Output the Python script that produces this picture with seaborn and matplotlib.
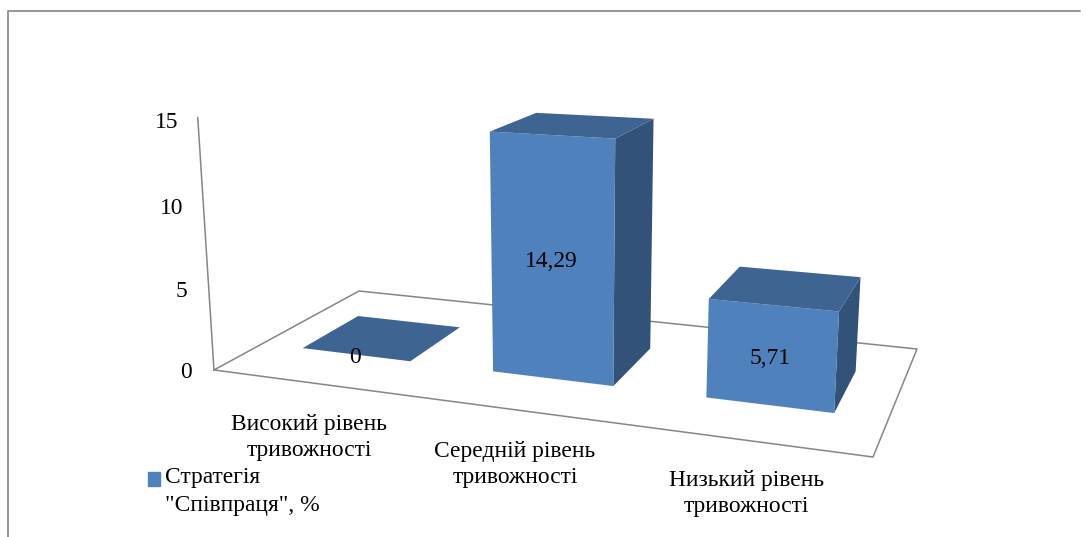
import numpy as np
import seaborn as sns
import matplotlib
matplotlib.use("Agg")
import matplotlib.pyplot as plt
from matplotlib.lines import Line2D
from matplotlib.patches import Polygon, Patch
from matplotlib.transforms import Transform, IdentityTransform

categories = ["Високий рівень\nтривожності", "Середній рівень\nтривожності", "Низький рівень\nтривожності"]
values = [0, 14.29, 5.71]
value_labels = ["0", "14,29", "5,71"]
series_name = 'Стратегія\n"Співпраця", %'
z_ticks = [0, 5, 10, 15]

W, H = 1086, 537
FRONT, TOP, SIDE = "#4F81BD", "#3E6591", "#325279"
GRID = "#868686"
BAR_WIDTHS = [0.58, 0.58, 0.55]
BAR_SHIFTS = [0.012, 0.014, 0.003]
Y0, Y1 = 0.30, 0.70
FS = 16.9
LS = 1.32

# camera: (x, depth, z) -> pixels, floor homography plus vertical vanishing point
src = np.array([[-.5, 0], [2.5, 0], [2.5, 1], [-.5, 1]], float)
dst = np.array([[214, 370], [873, 457], [917, 349], [359, 291]], float)
A, b = [], []
for (u, v), (px, py) in zip(src, dst):
    A.append([u, v, 1, 0, 0, 0, -u * px, -v * px]); b.append(px)
    A.append([0, 0, 0, u, v, 1, -u * py, -v * py]); b.append(py)
h = np.linalg.solve(np.array(A), np.array(b))
Hm = np.array([[h[0], h[1], h[2]], [h[3], h[4], h[5]], [h[6], h[7], 1.0]])
vp = np.array([570.0, 5900.0, 1.0])
w0 = Hm @ np.array([-.5, 0, 1])
s = (120 - w0[1] / w0[2]) * w0[2] / (15 * (vp[1] - 120 * vp[2]))
P = np.column_stack([Hm[:, 0], Hm[:, 1], s * vp, Hm[:, 2]])


def project(x, y, z):
    p = P @ np.array([x, y, z, 1.0])
    return p[0] / p[2], H - p[1] / p[2]


class Depth(Transform):
    input_dims = output_dims = 2

    def __init__(self, floor_depth):
        super().__init__()
        self.floor_depth = floor_depth

    def transform_non_affine(self, xy):
        xy = np.asarray(xy, float)
        return np.array([project(a, self.floor_depth, c) for a, c in xy])

    def inverted(self):
        raise NotImplementedError


sns.set_theme(style="white")
plt.rcParams["font.family"] = ["Liberation Serif", "DejaVu Serif"]
fig = plt.figure(figsize=(W / 100, H / 100), dpi=100)
ax = fig.add_axes([0, 0, 1, 1])
ax.set_axis_off()
sns.barplot(x=list(range(3)), y=values, width=0.58, color=FRONT, saturation=1, ax=ax, zorder=3)
ax.set_xlim(-.5, 2.5)

identity = IdentityTransform()


def pixel_line(xs, ys, **kw):
    fig.add_artist(Line2D(np.array(xs) / W, 1 - np.array(ys) / H, **kw))


# picture frame
pixel_line([7.5, 7.5, 1080], [537, 10.5, 10.5], color="#8C8C8C", lw=1.3)

# floor and vertical axis
corners = [(-.5, 0), (2.5, 0), (2.5, 1), (-.5, 1), (-.5, 0)]
fx, fy = zip(*[project(a, d, 0) for a, d in corners])
ax.add_line(Line2D(fx, fy, color=GRID, lw=1.1, transform=identity, zorder=1, clip_on=False))
ax_p = [project(-.5, 0, 0), project(-.5, 0, 15.15)]
ax.add_line(Line2D(*zip(*ax_p), color=GRID, lw=1.1, transform=identity, zorder=1, clip_on=False))

bars = list(ax.patches)
for i, (bar, val, lab) in enumerate(zip(bars, values, value_labels)):
    center = bar.get_x() + bar.get_width() / 2 + BAR_SHIFTS[i]
    bar.set_width(BAR_WIDTHS[i])
    bar.set_x(center - BAR_WIDTHS[i] / 2)
    x0, x1 = bar.get_x(), bar.get_x() + bar.get_width()
    bar.set_transform(Depth(Y0))
    bar.set_edgecolor("none")
    bar.set_clip_on(False)
    pts_top = [project(x0, Y0, val), project(x1, Y0, val), project(x1, Y1, val), project(x0, Y1, val)]
    pts_side = [project(x1, Y0, 0), project(x1, Y1, 0), project(x1, Y1, val), project(x1, Y0, val)]
    if val > 0:
        ax.add_patch(Polygon(pts_side, closed=True, fc=SIDE, ec="none", transform=identity, zorder=2, clip_on=False))
    ax.add_patch(Polygon(pts_top, closed=True, fc=TOP, ec="none", transform=identity, zorder=4, clip_on=False))
    lx, ly = project((x0 + x1) / 2, Y0, val / 2)
    ax.text(lx - 1, ly - 2.5, lab, transform=identity, ha="center", va="center", fontsize=FS, color="black", zorder=6)

# vertical axis tick labels
for t in z_ticks:
    px, py = project(-.5, 0, t)
    ax.text(px - 22 + 0.2 * t, py - 2.5, str(t), transform=identity, ha="right", va="center", fontsize=FS, color="black")

# category labels
label_dy = [55, 55, 53]
for i, c in enumerate(categories):
    px, py = project(i, 0, 0)
    ax.text(px + 1, py - label_dy[i], c, transform=identity, ha="center", va="center", fontsize=FS,
            color="black", linespacing=LS)

leg = ax.legend(handles=[Patch(color=FRONT, label=series_name)], loc="upper left",
                bbox_to_anchor=(148 / W, 1 - 467 / H), bbox_transform=fig.transFigure, frameon=False,
                fontsize=FS, handlelength=0.52, handleheight=0.52, handletextpad=0.2,
                borderpad=0, borderaxespad=0, labelcolor="black")
leg.get_texts()[0].set_linespacing(1.42)
handle = leg.legend_handles[0]
handle.set_y(handle.get_y() + 8.5)

fig.savefig("out.png", dpi=100)
